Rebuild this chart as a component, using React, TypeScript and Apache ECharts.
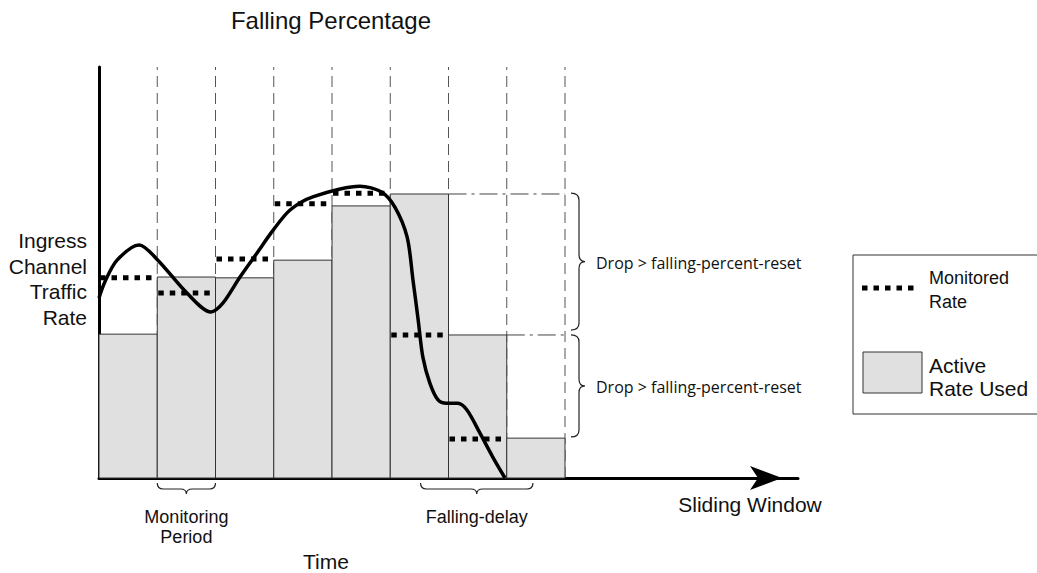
import React, { useEffect, useRef } from 'react';
import * as echarts from 'echarts';

// Sliding windows (x in monitoring periods)
const activeRate = [35, 48.9, 48.7, 53, 66.2, 69.1, 34.8, 9.7];
const monitoredRate = [48.7, 45, 53.3, 66.7, 69.3, 34.8, 9.5];
const windowEdges = [1, 2, 3, 4, 5, 6, 7, 8];

// Ingress channel traffic rate curve
const trafficX = [0, 0.1, 0.31, 0.69, 1.01, 1.51, 1.92, 2.13, 2.42, 2.71, 2.99, 3.28, 3.67, 4.48, 4.85, 5.08, 5.29, 5.39, 5.48, 5.56, 5.68, 5.82, 5.97, 6.16, 6.32, 6.54, 6.76, 6.97];
const trafficY = [43.8, 47.7, 53.0, 56.7, 53.0, 45.0, 40.4, 42.6, 48.9, 54.7, 60.3, 65.2, 68.4, 71.0, 69.6, 65.9, 58.6, 48.2, 38.4, 29.4, 23.1, 19.0, 18.2, 18.2, 16.5, 10.9, 5.1, 0];

// Reset reference lines: [startX, endX, level]
const resetLines = [
  [6, 8, 69.1],
  [7, 8, 34.8],
];
// Drop braces: [top level, bottom level]
const dropBraces = [
  [69.3, 36.0],
  [34.8, 10.0],
];
const dropLabel = 'Drop > falling-percent-reset';
// Time braces: [startX, endX]
const timeBraces = [
  [1, 2],
  [5.52, 7.45],
];
const timeBraceLabels = ['Monitoring\nPeriod', 'Falling-delay'];

const SANS = '"Liberation Sans", Arial, sans-serif';

export default function App() {
  const ref = useRef<HTMLDivElement>(null);
  useEffect(() => {
    const chart = echarts.init(ref.current!, null, { renderer: 'svg' });
    const black = '#000';
    const option: any = {
      animation: false,
      backgroundColor: '#fff',
      grid: { left: 99, right: 239, top: 67, bottom: 95 },
      xAxis: {
        type: 'value',
        min: 0,
        max: 12,
        axisLine: {
          show: true,
          onZero: false,
          symbol: ['none', 'arrow'],
          symbolSize: [18, 32],
          symbolOffset: [0, -16],
          lineStyle: { color: black, width: 3 },
        },
        axisTick: { show: false },
        axisLabel: { show: false },
        splitLine: { show: false },
      },
      yAxis: {
        type: 'value',
        min: 0,
        max: 100,
        axisLine: { show: true, onZero: false, lineStyle: { color: black, width: 3 } },
        axisTick: { show: false },
        axisLabel: { show: false },
        splitLine: { show: false },
      },
      graphic: [
        {
          type: 'text', x: 331, y: 20, z: 100,
          style: { text: 'Falling Percentage', font: `24px ${SANS}`, fill: '#111', align: 'center', textAlign: 'center', verticalAlign: 'middle', textVerticalAlign: 'middle' },
        },
        {
          type: 'text', x: 87, y: 279, z: 100,
          style: { text: 'Ingress\nChannel\nTraffic\nRate', font: `21px ${SANS}`, lineHeight: 25.5, fill: '#111', align: 'right', textAlign: 'right', verticalAlign: 'middle', textVerticalAlign: 'middle' },
        },
        {
          type: 'text', x: 750, y: 504, z: 100,
          style: { text: 'Sliding Window', font: `21px ${SANS}`, fill: '#111', align: 'center', textAlign: 'center', verticalAlign: 'middle', textVerticalAlign: 'middle' },
        },
        {
          type: 'text', x: 326, y: 561, z: 100,
          style: { text: 'Time', font: `21px ${SANS}`, fill: '#111', align: 'center', textAlign: 'center', verticalAlign: 'middle', textVerticalAlign: 'middle' },
        },
        // legend
        {
          type: 'rect', z: 90,
          shape: { x: 853, y: 255, width: 200, height: 159 },
          style: { fill: '#fff', stroke: '#333', lineWidth: 1 },
        },
        {
          type: 'line', z: 91,
          shape: { x1: 862, y1: 288, x2: 918, y2: 288 },
          style: { stroke: '#000', lineWidth: 5, lineDash: [5.5, 6] },
        },
        {
          type: 'text', x: 929, y: 290, z: 91,
          style: { text: 'Monitored\nRate', font: `18px ${SANS}`, lineHeight: 24, fill: '#111', align: 'left', textAlign: 'left', verticalAlign: 'middle', textVerticalAlign: 'middle' },
        },
        {
          type: 'rect', z: 91,
          shape: { x: 863, y: 352, width: 59, height: 41 },
          style: { fill: '#e0e0e0', stroke: '#333', lineWidth: 1 },
        },
        {
          type: 'text', x: 929, y: 377, z: 91,
          style: { text: 'Active\nRate Used', font: `21px ${SANS}`, lineHeight: 23, fill: '#111', align: 'left', textAlign: 'left', verticalAlign: 'middle', textVerticalAlign: 'middle' },
        },
      ],
      series: [
        {
          type: 'custom',
          name: 'windows',
          z: 1,
          data: windowEdges.map((x) => [x, 100]),
          renderItem: (params: any, api: any) => {
            const p0 = api.coord([api.value(0), 0]);
            const p1 = api.coord([api.value(0), api.value(1)]);
            return {
              type: 'line',
              shape: { x1: p0[0], y1: p0[1], x2: p1[0], y2: p1[1] },
              style: { stroke: '#555', lineWidth: 1, lineDash: [11, 6] },
            };
          },
        },
        {
          type: 'custom',
          name: 'Active Rate Used',
          z: 2,
          data: activeRate.map((v, i) => [i, v]),
          renderItem: (params: any, api: any) => {
            const i = api.value(0);
            const p0 = api.coord([i, 0]);
            const p1 = api.coord([i + 1, api.value(1)]);
            return {
              type: 'rect',
              shape: { x: p0[0], y: p1[1], width: p1[0] - p0[0], height: p0[1] - p1[1] },
              style: { fill: '#e0e0e0', stroke: '#333', lineWidth: 1 },
            };
          },
        },
        {
          type: 'custom',
          name: 'reset',
          z: 3,
          data: resetLines,
          renderItem: (params: any, api: any) => {
            const p0 = api.coord([api.value(0), api.value(2)]);
            const p1 = api.coord([api.value(1), api.value(2)]);
            return {
              type: 'line',
              shape: { x1: p0[0], y1: p0[1], x2: p1[0], y2: p1[1] },
              style: { stroke: '#444', lineWidth: 1, lineDash: [18, 5, 3, 5] },
            };
          },
        },
        {
          type: 'custom',
          name: 'Monitored Rate',
          z: 4,
          data: monitoredRate.map((v, i) => [i, v]),
          renderItem: (params: any, api: any) => {
            const i = api.value(0);
            const p0 = api.coord([i, api.value(1)]);
            const p1 = api.coord([i + 1, api.value(1)]);
            return {
              type: 'line',
              shape: { x1: p0[0] + 1, y1: p0[1], x2: p1[0], y2: p1[1] },
              style: { stroke: '#000', lineWidth: 5, lineDash: [5.5, 6] },
            };
          },
        },
        {
          type: 'line',
          name: 'traffic',
          z: 5,
          smooth: 0.3,
          showSymbol: false,
          symbol: 'none',
          data: trafficX.map((x, i) => [x, trafficY[i]]),
          lineStyle: { color: '#000', width: 3.5 },
        },
        {
          type: 'custom',
          name: 'dropBraces',
          z: 6,
          data: dropBraces.map((b) => [8, b[0], b[1]]),
          renderItem: (params: any, api: any) => {
            const pTop = api.coord([api.value(0), api.value(1)]);
            const pBot = api.coord([api.value(0), api.value(2)]);
            const x0 = pTop[0] + 6;
            const xm = x0 + 8;
            const xt = x0 + 14;
            const y0 = pTop[1];
            const y1 = pBot[1];
            const ym = (y0 + y1) / 2;
            const r = 7;
            const d = `M${x0},${y0} Q${xm},${y0} ${xm},${y0 + r} L${xm},${ym - r} Q${xm},${ym} ${xt},${ym} Q${xm},${ym} ${xm},${ym + r} L${xm},${y1 - r} Q${xm},${y1} ${x0},${y1}`;
            return {
              type: 'group',
              children: [
                { type: 'path', shape: { pathData: d }, style: { fill: 'none', stroke: '#222', lineWidth: 1.2 } },
                {
                  type: 'text', x: xt + 11, y: ym + 1,
                  style: { text: dropLabel, font: '16px "Open Sans", sans-serif', fill: '#111', align: 'left', textAlign: 'left', verticalAlign: 'middle', textVerticalAlign: 'middle' },
                },
              ],
            };
          },
        },
        {
          type: 'custom',
          name: 'timeBraces',
          z: 6,
          data: timeBraces.map((b) => [b[0], b[1], 0]),
          renderItem: (params: any, api: any) => {
            const pA = api.coord([api.value(0), 0]);
            const pB = api.coord([api.value(1), 0]);
            const x0 = pA[0];
            const x1 = pB[0];
            const xm = (x0 + x1) / 2;
            const y0 = pA[1] + 5;
            const ys = y0 + 6;
            const yt = y0 + 11;
            const r = 6;
            const d = `M${x0},${y0} Q${x0},${ys} ${x0 + r},${ys} L${xm - r},${ys} Q${xm},${ys} ${xm},${yt} Q${xm},${ys} ${xm + r},${ys} L${x1 - r},${ys} Q${x1},${ys} ${x1},${y0}`;
            const label = timeBraceLabels[params.dataIndex];
            return {
              type: 'group',
              children: [
                { type: 'path', shape: { pathData: d }, style: { fill: 'none', stroke: '#222', lineWidth: 1.2 } },
                {
                  type: 'text', x: xm, y: yt + 13,
                  style: { text: label, font: `18px ${SANS}`, lineHeight: 20, fill: '#111', align: 'center', textAlign: 'center', verticalAlign: 'top', textVerticalAlign: 'top' },
                },
              ],
            };
          },
        },
      ],
    };
    chart.setOption(option);
    return () => chart.dispose();
  }, []);
  return <div ref={ref} style={{ position: 'absolute', left: 0, top: 0, width: 1037, height: 573 }} />;
}
